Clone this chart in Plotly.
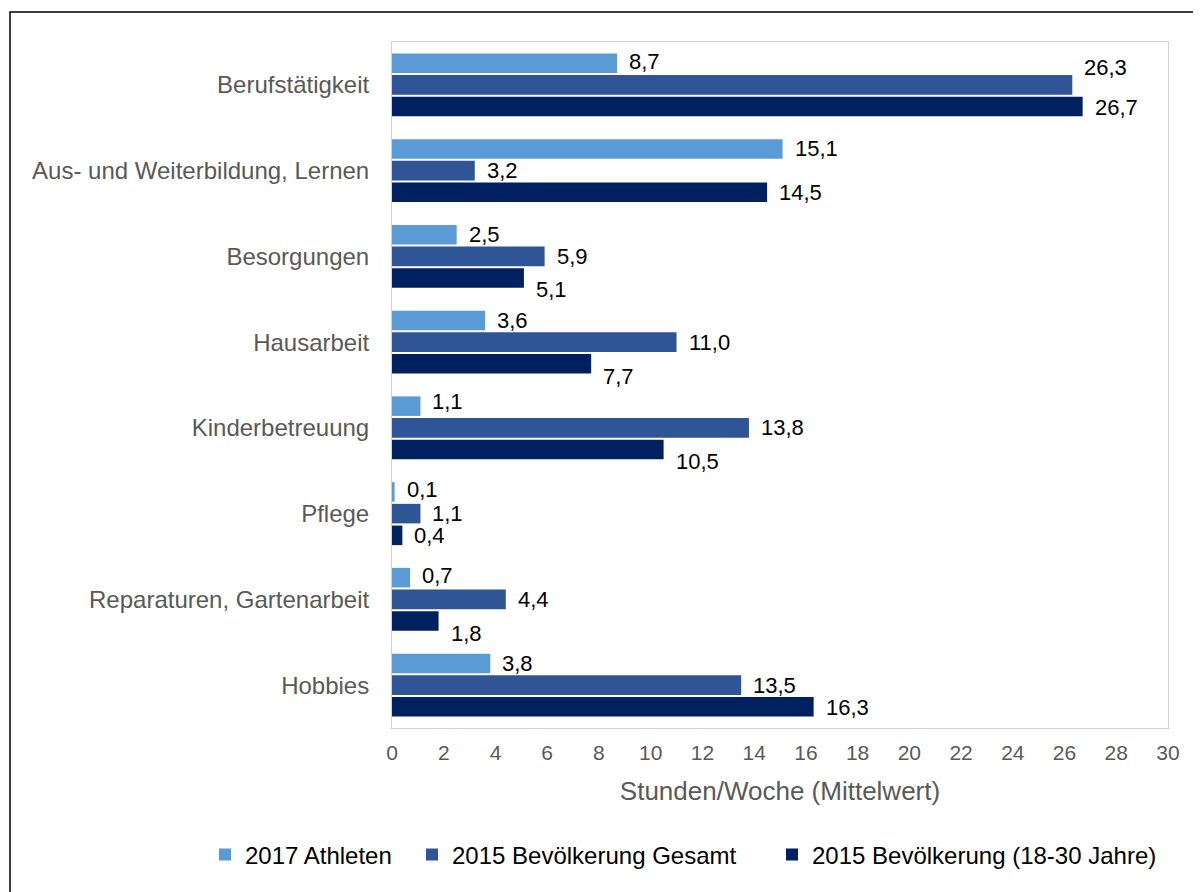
import plotly.graph_objects as go

categories = [
    "Berufstätigkeit",
    "Aus- und Weiterbildung, Lernen",
    "Besorgungen",
    "Hausarbeit",
    "Kinderbetreuung",
    "Pflege",
    "Reparaturen, Gartenarbeit",
    "Hobbies",
]
series_names = [
    "2017 Athleten",
    "2015 Bevölkerung Gesamt",
    "2015 Bevölkerung (18-30 Jahre)",
]
athleten_2017 = [8.7, 15.1, 2.5, 3.6, 1.1, 0.1, 0.7, 3.8]
gesamt_2015 = [26.3, 3.2, 5.9, 11.0, 13.8, 1.1, 4.4, 13.5]
jung_2015 = [26.7, 14.5, 5.1, 7.7, 10.5, 0.4, 1.8, 16.3]
x_ticks = list(range(0, 31, 2))

# style
colors = ["#5B9BD5", "#2F5597", "#002060"]
# vertical nudges (px) of the value labels, as in the original layout
label_nudge = [
    [1, 0, 0, 0, 4, 2, 2, 0],
    [17, 0, 0, 0, 0, 0, 0, 0],
    [-1, 0, -11, -12, -12, 0, -12, 0],
]
legend_text_left = [245, 452, 812]  # screen px where each legend text starts
bar_step = 22  # px between bars inside a group
FONT = "Liberation Sans, Arial, sans-serif"

series_values = [athleten_2017, gesamt_2015, jung_2015]
legend_ids = ["legend", "legend2", "legend3"]

fig = go.Figure()
for name, vals, col, lid in zip(series_names, series_values, colors, legend_ids):
    fig.add_trace(go.Bar(
        y=categories, x=vals, name=name, orientation="h",
        marker=dict(color=col, line=dict(width=0)), legend=lid,
        showlegend=True,
    ))

def fmt(v):
    return f"{v:.1f}".replace(".", ",")

annotations = []
for i, vals in enumerate(series_values):
    for j, v in enumerate(vals):
        annotations.append(dict(
            x=v, y=categories[j], xref="x", yref="y",
            text=fmt(v), showarrow=False, xanchor="left", yanchor="middle",
            xshift=10, yshift=(1 - i) * bar_step + label_nudge[i][j],
            font=dict(family=FONT, size=22, color="#000000"),
        ))

# page body has an 8px margin: work in screen pixels, convert to figure pixels
OFF = 8
W, H = 1201 - OFF, 892 - OFF
ml, mt = 392 - OFF, 42 - OFF
mr = W - (1168 - OFF)
mb = H - (728 - OFF)
pw, ph = W - ml - mr, H - mt - mb

def px_x(p):  # screen px -> paper x
    return (p - OFF - ml) / pw

def px_y(p):  # screen px -> paper y
    return (H - mb - (p - OFF)) / ph

shapes = [dict(
    type="rect", xref="paper", yref="paper",
    x0=px_x(10), x1=px_x(1215), y0=px_y(12), y1=px_y(905),
    line=dict(color="#000000", width=1.5), fillcolor="rgba(0,0,0,0)", layer="above",
)]

legends = {}
for lid, tx in zip(legend_ids, legend_text_left):
    legends[lid] = dict(
        orientation="h", x=px_x(tx - 40), xanchor="left",
        y=px_y(855), yanchor="middle",
        font=dict(family=FONT, size=24, color="#000000"),
        borderwidth=0, bgcolor="rgba(0,0,0,0)", visible=True,
    )

fig.update_layout(
    width=W, height=H,
    showlegend=True,
    margin=dict(l=ml, r=mr, t=mt, b=mb, pad=0),
    paper_bgcolor="white", plot_bgcolor="white",
    barmode="group", bargap=0.24, bargroupgap=0.1,
    font=dict(family=FONT, color="#595959"),
    xaxis=dict(
        range=[0, 30], tickvals=x_ticks, ticktext=[str(t) for t in x_ticks],
        showgrid=False, zeroline=False, showline=True, mirror=True,
        linecolor="#D0D0D0", linewidth=1, ticks="",
        tickfont=dict(family=FONT, size=21, color="#595959"),
        ticklabelstandoff=6,
        title=dict(text="Stunden/Woche (Mittelwert)", standoff=18,
                   font=dict(family=FONT, size=26, color="#595959")),
    ),
    yaxis=dict(
        autorange="reversed", showgrid=False, zeroline=False,
        showline=True, mirror=True, linecolor="#D0D0D0", linewidth=1,
        ticks="", ticklabelstandoff=17,
        tickfont=dict(family=FONT, size=24, color="#595959"),
    ),
    annotations=annotations,
    shapes=shapes,
    **legends,
)

fig.write_html("out.html")
